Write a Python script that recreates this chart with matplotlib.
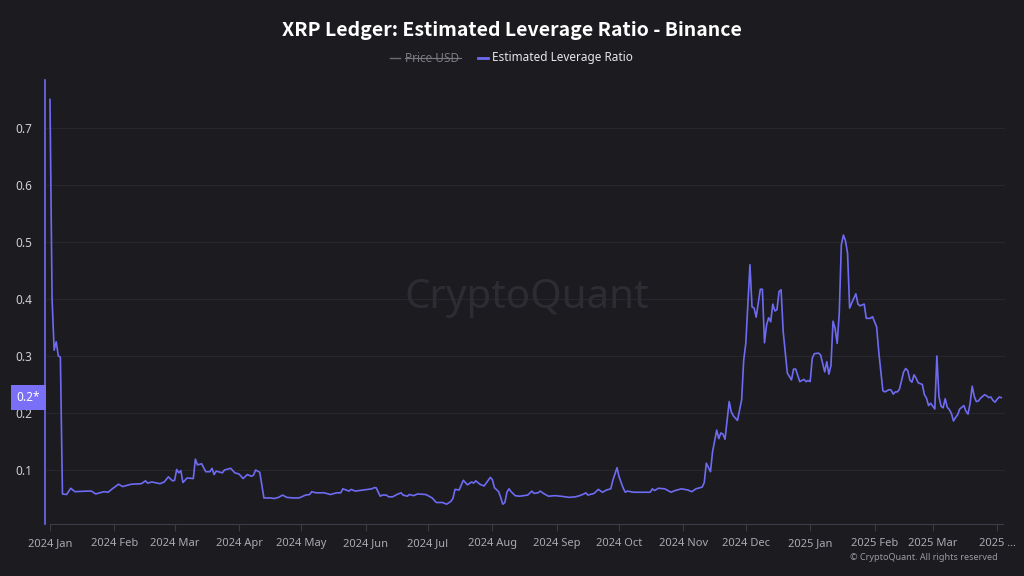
import matplotlib
matplotlib.use('Agg')
import matplotlib.pyplot as plt
import matplotlib.dates as mdates
from matplotlib.lines import Line2D
import matplotlib.transforms as mtransforms
import pandas as pd

# days since 2024-01-01 and the estimated leverage ratio
day = [0, 1, 2, 3, 4, 5, 6, 8, 10, 12, 18, 20, 22, 26, 28, 30, 33, 35, 39, 44,
       46, 47, 49, 53, 55, 57, 59, 60, 61, 62, 63, 64, 66, 69, 70, 71, 73, 75, 77, 78,
       79, 80, 83, 84, 87, 89, 91, 93, 95, 97, 98, 99, 101, 103, 106, 108, 110, 112, 114, 117,
       120, 123, 125, 126, 128, 132, 135, 138, 140, 141, 144, 145, 147, 151, 155, 156, 157, 159, 160, 162,
       163, 165, 167, 169, 170, 172, 173, 175, 177, 181, 183, 184, 186, 189, 191, 193, 194, 195, 197, 199,
       201, 203, 204, 205, 207, 209, 210, 212, 213, 214, 216, 217, 218, 219, 220, 221, 222, 224, 226, 228,
       230, 232, 233, 235, 236, 238, 240, 243, 246, 250, 253, 255, 257, 258, 259, 261, 262, 264, 266, 268,
       270, 271, 273, 274, 276, 277, 278, 281, 285, 289, 290, 291, 293, 296, 299, 301, 304, 307, 309, 311,
       314, 315, 316, 318, 319, 321, 322, 323, 324, 325, 327, 328, 329, 331, 333, 334, 335, 337, 338, 339,
       340, 342, 343, 344, 345, 346, 347, 348, 349, 350, 351, 352, 353, 355, 357, 358, 359, 361, 363, 364,
       365, 366, 367, 368, 370, 371, 373, 374, 375, 376, 377, 378, 379, 380, 381, 382, 383, 384, 385, 386,
       388, 389, 390, 392, 393, 395, 396, 398, 399, 401, 402, 404, 405, 406, 407, 408, 409, 411, 412, 413,
       414, 415, 416, 417, 418, 420, 421, 422, 423, 424, 425, 426, 427, 428, 429, 430, 431, 432, 433, 434,
       435, 436, 437, 438, 440, 441, 442, 443, 444, 445, 446, 447, 448, 450, 451, 452, 453, 454, 455, 456,
       457, 458]
ratio = [0.750, 0.400, 0.310, 0.325, 0.300, 0.298, 0.058, 0.057, 0.068, 0.062, 0.063, 0.063, 0.058, 0.062, 0.061, 0.067, 0.075, 0.071, 0.075, 0.076,
         0.081, 0.077, 0.079, 0.076, 0.079, 0.088, 0.081, 0.082, 0.101, 0.095, 0.099, 0.078, 0.086, 0.085, 0.119, 0.109, 0.111, 0.097, 0.097, 0.103,
         0.092, 0.098, 0.095, 0.100, 0.103, 0.095, 0.093, 0.085, 0.092, 0.089, 0.091, 0.100, 0.096, 0.051, 0.051, 0.050, 0.052, 0.056, 0.052, 0.051,
         0.051, 0.056, 0.057, 0.062, 0.060, 0.060, 0.057, 0.060, 0.060, 0.067, 0.063, 0.066, 0.063, 0.065, 0.067, 0.069, 0.069, 0.054, 0.056, 0.056,
         0.053, 0.053, 0.057, 0.060, 0.056, 0.054, 0.057, 0.055, 0.058, 0.057, 0.053, 0.051, 0.043, 0.043, 0.040, 0.045, 0.050, 0.066, 0.065, 0.082,
         0.074, 0.079, 0.077, 0.081, 0.075, 0.072, 0.077, 0.087, 0.083, 0.069, 0.062, 0.052, 0.040, 0.043, 0.061, 0.067, 0.062, 0.055, 0.054, 0.055,
         0.056, 0.063, 0.059, 0.060, 0.063, 0.058, 0.054, 0.055, 0.054, 0.052, 0.053, 0.055, 0.058, 0.060, 0.056, 0.058, 0.059, 0.066, 0.061, 0.065,
         0.067, 0.082, 0.104, 0.088, 0.068, 0.061, 0.063, 0.061, 0.061, 0.061, 0.067, 0.064, 0.068, 0.067, 0.061, 0.064, 0.067, 0.065, 0.062, 0.067,
         0.070, 0.078, 0.112, 0.097, 0.132, 0.170, 0.155, 0.165, 0.163, 0.154, 0.220, 0.202, 0.195, 0.187, 0.223, 0.293, 0.322, 0.460, 0.386, 0.384,
         0.368, 0.417, 0.417, 0.323, 0.354, 0.367, 0.360, 0.391, 0.379, 0.381, 0.413, 0.416, 0.343, 0.270, 0.258, 0.277, 0.277, 0.255, 0.259, 0.255,
         0.257, 0.255, 0.296, 0.304, 0.305, 0.302, 0.272, 0.290, 0.268, 0.283, 0.361, 0.348, 0.322, 0.375, 0.495, 0.512, 0.502, 0.480, 0.384, 0.393,
         0.409, 0.391, 0.388, 0.391, 0.366, 0.366, 0.369, 0.351, 0.308, 0.239, 0.237, 0.241, 0.240, 0.233, 0.237, 0.237, 0.242, 0.272, 0.278, 0.274,
         0.258, 0.254, 0.267, 0.261, 0.253, 0.250, 0.232, 0.226, 0.213, 0.217, 0.212, 0.207, 0.300, 0.229, 0.212, 0.209, 0.225, 0.210, 0.206, 0.199,
         0.186, 0.192, 0.197, 0.207, 0.213, 0.203, 0.198, 0.217, 0.247, 0.229, 0.220, 0.221, 0.226, 0.232, 0.230, 0.227, 0.228, 0.222, 0.219, 0.224,
         0.228, 0.227]

month_ticks = ['2024-01-01', '2024-02-01', '2024-03-01', '2024-04-01', '2024-05-01', '2024-06-01',
               '2024-07-01', '2024-08-01', '2024-09-01', '2024-10-01', '2024-11-01', '2024-12-01',
               '2025-01-01', '2025-02-01', '2025-03-01', '2025-04-01']
month_labels = ['2024 Jan', '2024 Feb', '2024 Mar', '2024 Apr', '2024 May', '2024 Jun', '2024 Jul',
                '2024 Aug', '2024 Sep', '2024 Oct', '2024 Nov', '2024 Dec', '2025 Jan', '2025 Feb',
                '2025 Mar', '2025 ...']
y_ticks = [0.1, 0.2, 0.3, 0.4, 0.5, 0.6, 0.7]

BG = '#1b1b20'
LINE = '#6e6bf2'
plt.rcParams['font.family'] = ['Noto Sans', 'DejaVu Sans']

start = pd.Timestamp('2024-01-01')
dates = start + pd.to_timedelta(day, unit='D')

fig = plt.figure(figsize=(10.24, 5.76), dpi=100, facecolor=BG)
ax = fig.add_axes([45 / 1024, 1 - 524 / 576, 960 / 1024, 444 / 576], facecolor=BG)

ax.plot(dates, ratio, color=LINE, lw=1.2)

ax.set_xlim(start - pd.Timedelta(days=2.4), start + pd.Timedelta(days=459.8))
ax.set_ylim(0.0053, 0.784)

ax.set_yticks(y_ticks)
ax.set_yticklabels([f'{v:g}' for v in y_ticks])
ax.set_xticks(pd.to_datetime(month_ticks))
ax.set_xticklabels(month_labels)
ax.tick_params(axis='y', length=0, pad=9, labelsize=8.5, labelcolor='#cfcfd4')
ax.tick_params(axis='x', length=5, width=0.8, color='#3c3c46', pad=5,
               labelsize=8, labelcolor='#a9a9b0')
ax.grid(axis='y', color='#27272d', lw=0.8)
ax.set_axisbelow(True)

for side in ['top', 'right']:
    ax.spines[side].set_visible(False)
ax.spines['left'].set_color(LINE)
ax.spines['left'].set_linewidth(1.2)
ax.spines['bottom'].set_color('#3c3c46')
ax.spines['bottom'].set_bounds(mdates.date2num(start),
                               mdates.date2num(start + pd.Timedelta(days=458.8)))

# last value marker on the y axis
trans = mtransforms.blended_transform_factory(ax.transAxes, ax.transData)
ax.annotate('0.2*', xy=(0, ratio[-1]), xycoords=trans, xytext=(-3.5, 0),
            textcoords='offset points', ha='right', va='center', fontsize=8.5,
            color='white', annotation_clip=False,
            bbox=dict(boxstyle='square,pad=0.5', fc='#7a70f7', ec='none'))

# watermark
fig.text(527 / 1024, 1 - 298 / 576, 'CryptoQuant', ha='center', va='center',
         fontsize=29, fontweight='medium', color='#2c2c32', zorder=0)

fig.text(0.5, 1 - 30 / 576, 'XRP Ledger: Estimated Leverage Ratio - Binance',
         ha='center', va='center', fontsize=14, fontweight='bold', color='white',
         family=['Noto Sans CJK KR', 'DejaVu Sans'])

# legend
ly = 1 - 58 / 576
fig.add_artist(Line2D([390 / 1024, 400 / 1024], [ly, ly], color='#6a6a70', lw=1))
fig.text(405 / 1024, ly, 'Price USD', ha='left', va='center', fontsize=8.5, color='#7a7a80')
fig.add_artist(Line2D([405 / 1024, 461 / 1024], [ly, ly], color='#7a7a80', lw=0.8))
fig.add_artist(Line2D([478 / 1024, 488 / 1024], [ly, ly], color=LINE, lw=2))
fig.text(492 / 1024, ly, 'Estimated Leverage Ratio', ha='left', va='center', fontsize=8.5, color='#e6e6ea')

fig.text(998 / 1024, 1 - 558 / 576, '\u00a9 CryptoQuant. All rights reserved', ha='right', va='center',
         fontsize=6.5, color='#9a9aa0')

fig.savefig('out.png', dpi=100, facecolor=BG)
